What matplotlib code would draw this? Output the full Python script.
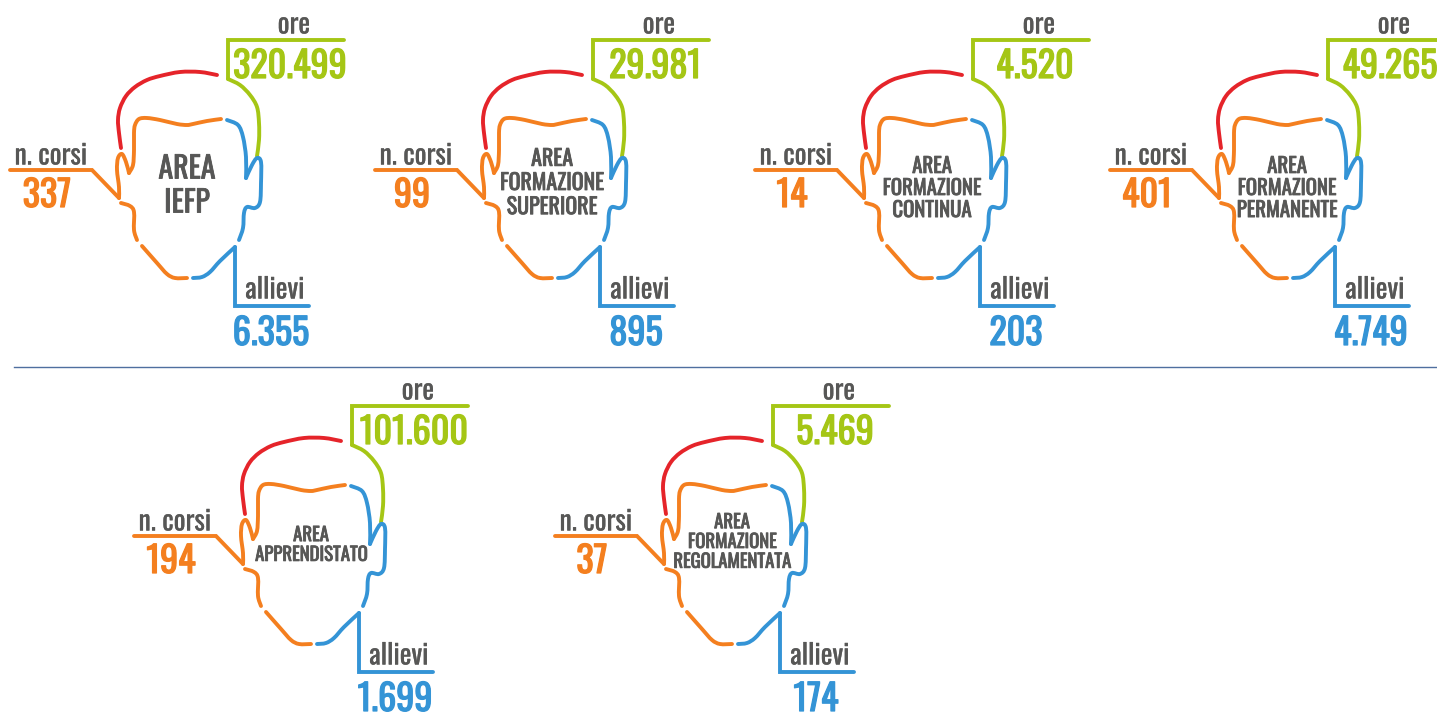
import matplotlib
matplotlib.use('Agg')
import matplotlib.pyplot as plt
import matplotlib.patheffects as pe
from matplotlib.path import Path
from matplotlib.patches import PathPatch

# Data
aree = ['AREA\nIEFP', 'AREA\nFORMAZIONE\nSUPERIORE', 'AREA\nFORMAZIONE\nCONTINUA',
        'AREA\nFORMAZIONE\nPERMANENTE', 'AREA\nAPPRENDISTATO', 'AREA\nFORMAZIONE\nREGOLAMENTATA']
corsi = ['337', '99', '14', '401', '194', '37']
ore = ['320.499', '29.981', '4.520', '49.265', '101.600', '5.469']
allievi = ['6.355', '895', '203', '4.749', '1.699', '174']

# where each face sits, relative to the first one
dx = [0, 365, 745, 1100, 124, 545]
dy = [0, 0, 0, 0, 366, 366]
title_size = [21.5, 15.8, 15, 15, 13.5, 13.5]
title_y = [186, 183, 188, 188, 179, 176]

ORANGE = '#F47F1F'
GREEN = '#A5C615'
RED = '#E5242A'
BLUE = '#3494D6'
GREY = '#575756'

# Face outline, drawn once in pixels for the first face
red_top = [(121, 148), (119, 133), (118, 120), (120, 108), (126, 96), (135, 87), (147, 80), (160, 76), (180, 72),
           (200, 72), (217, 75)]
green_side = [(228, 79), (240, 85), (250, 95), (257, 107), (259, 123), (259, 140), (257, 156)]
green_box = [(344, 40), (228, 40), (228, 79)]
orange_top = [(221, 119), (207, 121), (193, 124), (187, 125), (177, 124), (160, 120), (147, 118), (139, 119),
              (135, 125), (134, 133), (134, 150), (133, 165), (129, 173)]
orange_ear = [(129, 173), (126, 162), (122, 154), (118, 158), (117, 170), (119, 187), (119, 198)]
orange_box = [(119, 198), (92, 170), (10, 170)]
orange_jaw = [(121, 203), (130, 206), (134, 212), (134, 230), (137, 240)]
orange_chin = [(142, 246), (157, 263), (167, 274), (175, 278), (187, 278)]
blue_chin = [(193, 278), (202, 277), (210, 272), (220, 261), (235, 247)]
blue_box = [(235, 247), (235, 306), (309, 306)]
blue_jaw = [(239, 240), (243, 228), (244, 213), (247, 207), (255, 208), (260, 202), (261, 183),
            (261, 162), (257, 158), (252, 165), (246, 178)]
blue_top = [(246, 178), (246, 157), (243, 137), (238, 125), (227, 120)]

curves = [(red_top, RED), (green_side, GREEN), (orange_top, ORANGE), (orange_ear, ORANGE),
          (orange_jaw, ORANGE), (orange_chin, ORANGE), (blue_chin, BLUE), (blue_jaw, BLUE), (blue_top, BLUE)]
straights = [(green_box, GREEN), (orange_box, ORANGE), (blue_box, BLUE)]

plt.rcParams['font.family'] = ['Oswald', 'Roboto Condensed', 'Liberation Sans', 'DejaVu Sans']


def smooth(pts, x0, y0):
    # catmull-rom through the points, as bezier pieces
    pts = [(x + x0, y + y0) for x, y in pts]
    verts = [pts[0]]
    codes = [Path.MOVETO]
    for i in range(len(pts) - 1):
        p0 = pts[max(i - 1, 0)]
        p1 = pts[i]
        p2 = pts[i + 1]
        p3 = pts[min(i + 2, len(pts) - 1)]
        verts += [(p1[0] + (p2[0] - p0[0]) / 6, p1[1] + (p2[1] - p0[1]) / 6),
                  (p2[0] - (p3[0] - p1[0]) / 6, p2[1] - (p3[1] - p1[1]) / 6), p2]
        codes += [Path.CURVE4] * 3
    return Path(verts, codes)


def label(x, y, s, col, size, bold=0.5):
    # the installed Oswald only draws light, so thicken it with a thin stroke
    t = ax.text(x, y, s, color=col, fontsize=size, ha='center', va='center', linespacing=1.12)
    t.set_path_effects([pe.withStroke(linewidth=bold, foreground=col)])


fig = plt.figure(figsize=(14.37, 7.13), dpi=100)
ax = fig.add_axes([0, 0, 1, 1])
ax.set_xlim(0, 1437)
ax.set_ylim(713, 0)
ax.axis('off')

ax.plot([14, 1437], [367, 367], color='#4F6F9F', lw=1)

for i in range(6):
    x0, y0 = dx[i], dy[i]
    for pts, col in curves:
        ax.add_patch(PathPatch(smooth(pts, x0, y0), fc='none', ec=col, lw=2.8, capstyle='round', joinstyle='round'))
    for pts, col in straights:
        ax.plot([p[0] + x0 for p in pts], [p[1] + y0 for p in pts], color=col, lw=2.8,
                solid_capstyle='round', solid_joinstyle='miter')

    label(51 + x0, 156 + y0, 'n. corsi', GREY, 20, 0.15)
    label(47 + x0, 196 + y0, corsi[i], ORANGE, 26, 0.9)
    label(294 + x0, 25 + y0, 'ore', GREY, 20, 0.15)
    label(290 + x0, 67 + y0, ore[i], GREEN, 26, 0.9)
    label(275 + x0, 290 + y0, 'allievi', GREY, 20, 0.15)
    label(271 + x0, 334 + y0, allievi[i], BLUE, 26, 0.9)
    label(187 + x0, title_y[i] + y0, aree[i], GREY, title_size[i], 0.6)

fig.savefig('out.png', dpi=100)
